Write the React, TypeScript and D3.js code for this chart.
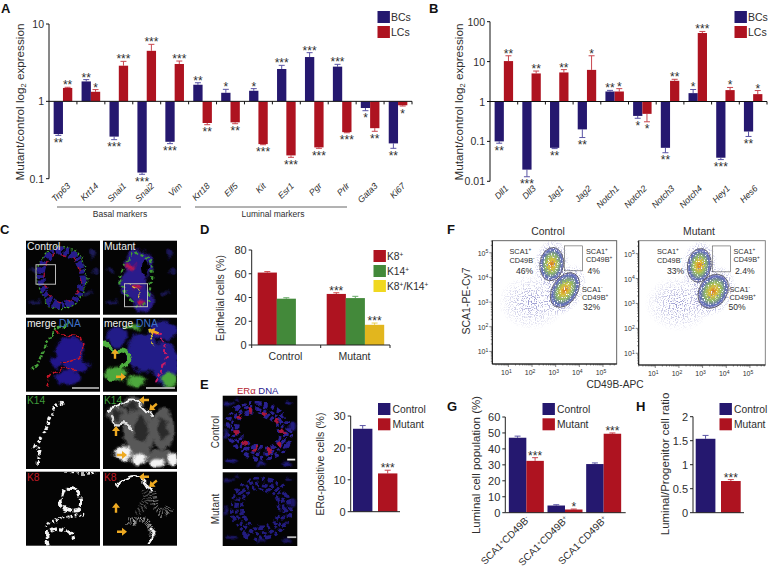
import React from "react";
import * as d3 from "d3";

const NAVY = "#25186f";
const RED = "#ae1320";
const GREEN = "#43893a";
const YELLOW = "#e2b61e";
const INK = "#2e2e2e";
const FONT = "'Liberation Sans', Arial, sans-serif";

// Panel A
const genesA = ["Trp63", "Krt14", "Snai1", "Snai2", "Vim", "Krt18", "Elf5", "Kit", "Esr1", "Pgr", "Prlr", "Gata3", "Ki67"];
const bcA = [0.378, 1.81, 0.35, 0.12, 0.3, 1.64, 1.29, 1.37, 2.62, 3.74, 2.81, 0.82, 0.286];
const lcA = [1.49, 1.33, 2.89, 4.5, 3.04, 0.525, 0.535, 0.28, 0.2, 0.254, 0.4, 0.45, 0.89];
const bcErrA = [0.363, 1.91, 0.32, 0.114, 0.284, 1.74, 1.43, 1.46, 2.92, 4.26, 3.01, 0.757, 0.247];
const lcErrA = [1.52, 1.42, 3.29, 5.46, 3.32, 0.499, 0.514, 0.275, 0.189, 0.247, 0.393, 0.41, 0.87];
const bcStarsA = ["**", "**", "***", "***", "***", "**", "*", "*", "***", "***", "***", "*", "**"];
const lcStarsA = ["**", "*", "***", "***", "***", "**", "**", "***", "***", "***", "***", "**", "*"];

// Panel B
const genesB = ["Dll1", "Dll3", "Jag1", "Jag2", "Notch1", "Notch2", "Notch3", "Notch4", "Hey1", "Hes6"];
const bcB = [0.1, 0.0196, 0.069, 0.2, 1.78, 0.435, 0.069, 1.62, 0.039, 0.177];
const lcB = [10.3, 5.05, 5.35, 6.2, 1.78, 0.49, 3.3, 52, 1.93, 1.53];
const bcErrB = [0.09, 0.013, 0.066, 0.125, 1.9, 0.38, 0.052, 2.0, 0.035, 0.133];
const lcErrB = [14, 5.8, 6.3, 14, 2.1, 0.31, 3.6, 57, 2.25, 1.88];
const bcStarsB = ["**", "***", "**", "**", "**", "*", "**", "*", "***", "**"];
const lcStarsB = ["**", "**", "**", "*", "*", "*", "**", "***", "*", "*"];

// Panel D
const valuesD = [61, 39, 43, 39.5, 17];
const errD = [61.8, 39.8, 44, 41, 18.5];
const starsD = ["", "", "***", "", "***"];

// Panel E
const valuesE = [26, 12];
const errE = [27, 13];
const starsE = ["", "***"];

// Panel G
const labelsG = [["SCA1", "+", "CD49B", "-"], ["SCA1", "+", "CD49B", "+"], ["SCA1", "-", "CD49B", "+"]];
const controlG = [47, 4.5, 30.5];
const mutantG = [32.5, 2, 49.5];
const controlErrG = [48, 5, 31.2];
const mutantErrG = [34.5, 2.3, 50];
const mutantStarsG = ["***", "*", "***"];

// Panel H
const valuesH = [1.54, 0.66];
const errH = [1.61, 0.69];
const starsH = ["", "***"];

function Stars({ x, y, text }: { x: number; y: number; text: string }) {
  if (!text) return null;
  return (
    <text x={x} y={y} textAnchor="middle" fontSize={12} fill={INK}>
      {text}
    </text>
  );
}

function Legend({ x, y, items, gap = 15, size = 12, fontSize = 10.3, textGap = 2.5 }: { x: number; y: number; items: [string, React.ReactNode][]; gap?: number; size?: number; fontSize?: number; textGap?: number }) {
  return (
    <g>
      {items.map(([color, label], i) => (
        <g key={i}>
          <rect x={x} y={y + i * gap} width={size + 0.4} height={size} fill={color} />
          <text x={x + size + textGap} y={y + i * gap + size - 2} fontSize={fontSize} fill={INK}>
            {label}
          </text>
        </g>
      ))}
    </g>
  );
}

function LogPairs({ genes, bc, lc, bcErr, lcErr, bcStars, lcStars, x0, x1, yDomain, yRange, ticks, labelDx, labelY }: any) {
  const x = d3.scaleBand<string>().domain(genes).range([x0, x1]);
  const y = d3.scaleLog().domain(yDomain).range(yRange);
  const base = y(1);
  const bw = x.bandwidth() / 3;
  const series = [
    { v: bc, e: bcErr, s: bcStars, c: NAVY, ec: "#5b55a5", off: -bw },
    { v: lc, e: lcErr, s: lcStars, c: RED, ec: "#c8474f", off: 0 },
  ];
  return (
    <g>
      {series.map((sr, si) =>
        genes.map((g: string, i: number) => {
          const left = x(g)! + x.bandwidth() / 2 + sr.off;
          const yv = y(sr.v[i]);
          const ye = y(sr.e[i]);
          const mid = left + bw / 2;
          const up = sr.v[i] >= 1;
          return (
            <g key={`${si}-${g}`}>
              <line x1={mid} x2={mid} y1={yv} y2={ye} stroke={sr.ec} />
              <line x1={mid - 3} x2={mid + 3} y1={ye} y2={ye} stroke={sr.ec} />
              <rect x={left} width={bw} y={Math.min(yv, base)} height={Math.abs(yv - base)} fill={sr.c} />
              <Stars x={mid} y={up ? ye + 2 : ye + 11.5} text={sr.s[i]} />
            </g>
          );
        })
      )}
      <line x1={x0} x2={x0} y1={yRange[0]} y2={yRange[1]} stroke="#111" />
      <line x1={x0} x2={x1} y1={base} y2={base} stroke="#111" />
      {genes.map((g: string) => (
        <line key={g} x1={x(g)! + x.bandwidth()} x2={x(g)! + x.bandwidth()} y1={base} y2={base + 3} stroke="#111" />
      ))}
      {ticks.map((t: number) => (
        <g key={t}>
          <line x1={x0 - 3} x2={x0} y1={y(t)} y2={y(t)} stroke="#111" />
          <text x={x0 - 5} y={y(t) + 4} textAnchor="end" fontSize={10.5} fill={INK}>
            {t}
          </text>
        </g>
      ))}
      {genes.map((g: string) => {
        const cx = x(g)! + x.bandwidth() / 2 + labelDx;
        return (
          <text key={g} transform={`translate(${cx},${labelY}) rotate(-45)`} textAnchor="end" fontSize={8.8} fontStyle="italic" fill={INK}>
            {g}
          </text>
        );
      })}
    </g>
  );
}

function LinAxis({ x0, x1, yBottom, yTop, domainMax, ticks, fmt, fontSize = 11 }: any) {
  const y = d3.scaleLinear().domain([0, domainMax]).range([yBottom, yTop]);
  return (
    <g>
      <line x1={x0} x2={x0} y1={yBottom} y2={yTop} stroke="#222" />
      <line x1={x0} x2={x1} y1={yBottom} y2={yBottom} stroke="#222" />
      {ticks.map((t: number) => (
        <g key={t}>
          <line x1={x0 - 3} x2={x0} y1={y(t)} y2={y(t)} stroke="#222" />
          <text x={x0 - 5} y={y(t) + 4} textAnchor="end" fontSize={fontSize} fill={INK}>
            {fmt ? fmt(t) : t}
          </text>
        </g>
      ))}
    </g>
  );
}

function SimpleBars({ xs, bw, values, err, stars, colors, yBottom, yTop, domainMax, errColors }: any) {
  const y = d3.scaleLinear().domain([0, domainMax]).range([yBottom, yTop]);
  return (
    <g>
      {values.map((v: number, i: number) => {
        const mid = xs[i] + bw / 2;
        return (
          <g key={i}>
            <line x1={mid} x2={mid} y1={y(v)} y2={y(err[i])} stroke={errColors[i]} />
            <line x1={mid - 3} x2={mid + 3} y1={y(err[i])} y2={y(err[i])} stroke={errColors[i]} />
            <rect x={xs[i]} width={bw} y={y(v)} height={yBottom - y(v)} fill={colors[i]} />
            <Stars x={mid} y={y(err[i]) + 2} text={stars[i]} />
          </g>
        );
      })}
    </g>
  );
}

const curve = d3.line().curve(d3.curveBasis);

function Sup({ base, sup, x, y, size }: any) {
  return (
    <text x={x} y={y} fontSize={size} fill={INK}>
      {base}
      <tspan dy={-size * 0.35} fontSize={size * 0.65}>
        {sup}
      </tspan>
    </text>
  );
}

function Micro({ id, x, y, w = 74, h = 74, children, over }: any) {
  return (
    <g transform={`translate(${x},${y})`}>
      <clipPath id={id}>
        <rect width={w} height={h} />
      </clipPath>
      <rect width={w} height={h} fill="#040404" />
      <g clipPath={`url(#${id})`}>
        <g filter="url(#organic)">{children}</g>
        {over}
      </g>
    </g>
  );
}

function Line({ pts, c, w = 2, dash }: any) {
  return <path d={curve(pts) ?? ""} fill="none" stroke={c} strokeWidth={w} strokeDasharray={dash} strokeLinecap={dash ? "butt" : "round"} />;
}

function Blobs({ list, c, op = 1 }: any) {
  return (
    <g filter="url(#soft2)" opacity={op}>
      {list.map((b: number[], i: number) => (
        <ellipse key={i} cx={b[0]} cy={b[1]} rx={b[2]} ry={b[3]} fill={c} />
      ))}
    </g>
  );
}

function Arrows({ list }: { list: number[][] }) {
  return (
    <g>
      {list.map((a, i) => (
        <path key={i} transform={`translate(${a[0]},${a[1]}) rotate(${a[2]})`} d="M0,-5L4,0L1.2,0L1.2,5L-1.2,5L-1.2,0L-4,0Z" fill="#eeaa22" />
      ))}
    </g>
  );
}

const bgBlue = [[8, 30, 4, 2], [66, 12, 3, 5], [62, 52, 4, 2], [10, 62, 5, 2], [70, 30, 3, 2]];

function PanelC() {
  const white = "#f4f4f4";
  const lbl = (t: string, c: string, x = 1) => (
    <text x={x} y={9} fontSize={10.3} fill={c}>
      {t}
    </text>
  );
  const merge = (
    <text x={1} y={9} fontSize={10.3} fill="#eee">
      merge <tspan fill="#3f70c8">DNA</tspan>
    </text>
  );
  return (
    <g>
      <Micro
        id="c1"
        x={26}
        y={240.7}
        over={
          <g>
            {lbl("Control", "#eee")}
            <rect x={10} y={24} width={19.5} height={19.5} fill="none" stroke="#bbb" />
          </g>
        }
      >
        <Blobs list={bgBlue} c="#1c1a58" />
        <ellipse cx={36} cy={37} rx={21} ry={27} fill="none" stroke="#251c8c" strokeWidth={7} strokeDasharray="6 1.5 4 2" />
        <ellipse cx={36} cy={37} rx={25} ry={31} fill="none" stroke="#43a035" strokeWidth={1.2} strokeDasharray="2 2" />
        <ellipse cx={36} cy={37} rx={18} ry={24} fill="none" stroke="#a81230" strokeWidth={1.4} strokeDasharray="5 6" />
      </Micro>
      <Micro
        id="c2"
        x={103}
        y={240.7}
        over={
          <g>
            {lbl("Mutant", "#eee")}
            <rect x={21.5} y={43} width={23} height={23} fill="none" stroke="#bbb" />
          </g>
        }
      >
        <Blobs list={bgBlue} c="#1a1858" />
        <Blobs list={[[36, 24, 14, 15], [30, 44, 13, 14], [40, 60, 11, 12]]} c="#2b1f8c" />
        <Line pts={[[25, 20], [36, 8], [50, 20], [48, 38], [46, 62], [36, 70], [22, 52], [14, 38], [25, 20]]} c="#3f9a34" w={2.2} dash="3 2.5" />
        <Blobs list={[[27, 26, 4, 3], [34, 46, 5, 3], [38, 62, 4, 3]]} c="#b81450" />
        <ellipse cx={43} cy={27} rx={3} ry={9} fill="#020202" />
        <Line pts={[[26, 42], [34, 50], [38, 58]]} c="#d8c430" w={1.2} dash="3 2" />
      </Micro>
      <Micro
        id="c3"
        x={26}
        y={317.7}
        over={
          <g>
            {merge}
            <rect x={46} y={69.5} width={27} height={1.6} fill="#bbb" />
          </g>
        }
      >
        <Blobs list={[[44, 32, 15, 13], [50, 48, 14, 6], [42, 60, 13, 7], [30, 44, 6, 6]]} c="#22188c" />
        <Line pts={[[30, 14], [42, 18], [54, 17], [60, 28], [52, 44], [34, 44]]} c="#c91428" w={1.6} dash="5 1.5" />
        <Line pts={[[22, 68], [24, 56], [36, 50], [50, 52]]} c="#c91428" w={1.6} dash="5 1.5" />
        <Line pts={[[44, 4], [30, 12], [20, 26], [14, 44], [6, 52]]} c="#46a43a" w={2.4} dash="3 2" />
      </Micro>
      <Micro
        id="c4"
        x={103}
        y={317.7}
        over={
          <g>
            {merge}
            <Arrows list={[[51, 14, -70], [12, 36, 0], [18, 59, 90]]} />
            <rect x={43} y={69.5} width={29} height={1.6} fill="#ccc" />
          </g>
        }
      >
        <Blobs list={[[14, 20, 10, 10], [40, 35, 16, 20], [62, 46, 13, 22], [60, 12, 14, 10]]} c="#221a88" />
        <Line pts={[[2, 26], [10, 36], [22, 30], [30, 44], [14, 50], [8, 62]]} c="#4fb040" w={4} />
        <Blobs list={[[14, 56, 11, 7], [34, 63, 9, 6], [66, 62, 8, 7], [30, 10, 9, 2.5]]} c="#4ea83c" />
        <Line pts={[[50, 14], [60, 18], [66, 40], [52, 66]]} c="#c41a66" w={2} dash="4 2" />
        <Line pts={[[46, 10], [50, 30]]} c="#dcca28" w={1.6} dash="5 2" />
      </Micro>
      <Micro id="c5" x={26} y={395} over={lbl("K14", "#3f9a3a")}>
        <Line pts={[[37, 7], [28, 14], [24, 24], [20, 36], [14, 44], [6, 54], [14, 52], [12, 62], [11, 72]]} c={white} w={3.2} dash="3.5 1.8 2.5 2.4" />
      </Micro>
      <Micro
        id="c6"
        x={103}
        y={395}
        over={
          <g>
            {lbl("K14", "#3f9a3a")}
            <Arrows list={[[41, 5, -90], [50, 12, -130], [13, 36, 0], [19, 60, 90]]} />
          </g>
        }
      >
        <Blobs list={[[14, 20, 10, 9], [30, 8, 11, 7], [36, 36, 16, 26], [60, 34, 11, 20], [56, 62, 14, 8]]} c="#585858" />
        <Blobs list={[[14, 20, 5, 5], [30, 12, 6, 5], [38, 34, 7, 13], [60, 34, 5, 10]]} c="#2c2c2c" />
        <Line pts={[[6, 16], [14, 12], [26, 2], [38, 8], [50, 22]]} c={white} w={2} />
        <Line pts={[[8, 22], [14, 32], [22, 26], [28, 34]]} c="#ddd" w={2.4} />
        <Blobs list={[[20, 58, 9, 7], [36, 64, 8, 6], [54, 68, 7, 4], [70, 64, 5, 6]]} c={white} />
      </Micro>
      <Micro id="c7" x={26} y={471.7} over={lbl("K8", "#c01a24")}>
        <Line pts={[[40, 0], [60, 2], [70, 0]]} c={white} w={1.4} dash="3 2" />
        <Line pts={[[38, 18], [33, 30], [38, 38], [54, 40], [56, 30], [52, 16], [40, 16]]} c={white} w={4} dash="8 1.5" />
        <Line pts={[[20, 56], [24, 50], [34, 46], [52, 44], [60, 42]]} c={white} w={3} dash="2 2" />
        <Line pts={[[22, 74], [20, 64], [28, 56], [44, 58], [48, 68]]} c={white} w={3.4} dash="6 2" />
      </Micro>
      <Micro
        id="c8"
        x={103}
        y={471.7}
        over={
          <g>
            {lbl("K8", "#c01a24")}
            <Arrows list={[[41, 5, -90], [50, 12, -130], [13, 36, 0], [19, 60, 90]]} />
          </g>
        }
      >
        <Line pts={[[14, 14], [24, 4], [40, 4], [48, 20]]} c={white} w={2} />
        <Line pts={[[50, 20], [52, 36], [60, 44], [68, 36]]} c="#777" w={8} dash="1 2" />
        <Line pts={[[24, 50], [36, 48], [46, 50], [50, 66]]} c="#999" w={7} dash="1 1.6" />
        <Line pts={[[48, 56], [52, 66], [46, 72]]} c={white} w={2.6} />
        <Line pts={[[40, 18], [48, 30], [34, 40]]} c="#555" w={7} dash="1 2" />
      </Micro>
    </g>
  );
}

// Cell layers of the duct section in panel E: [rx, ry, stroke, dash]
const ductRings: [number, number, string, string][] = [
  [32, 27, "#2a2092", "4 3 3 4 5 3"],
  [27, 22, "#2c2298", "5 2 3 3"],
  [22, 17, "#2a2092", "3 3 5 2 4 4"],
];

function PanelEImages() {
  const nuclei = [[6, 8, 4, 2], [66, 6, 4, 2], [70, 30, 3, 4], [8, 66, 5, 2], [64, 68, 5, 2], [38, 68, 5, 2], [14, 4, 3, 1.5], [3, 40, 2, 4]];
  return (
    <g>
      <Micro id="e1" x={222.7} y={395.7} w={74.6} h={73.3} over={<rect x={64.5} y={63} width={8} height={1.8} fill="#eee" />}>
        <Blobs list={nuclei} c="#221a84" />
        {ductRings.map(([rx, ry, c, dash], i) => (
          <ellipse key={i} cx={36} cy={35} rx={rx} ry={ry} fill="none" stroke={c} strokeWidth={3.6} strokeDasharray={dash} transform="rotate(25 36 35)" />
        ))}
        <ellipse cx={37} cy={35} rx={24} ry={19} fill="none" stroke="#a8183a" strokeWidth={4.5} strokeDasharray="4 9 5 12 3 8" transform="rotate(25 36 35)" />
      </Micro>
      <Micro id="e2" x={222.7} y={472.3} w={74.6} h={73.7} over={<rect x={64.5} y={64} width={9} height={1.8} fill="#bbb" />}>
        <Blobs list={nuclei} c="#1c1668" />
        {ductRings.map(([rx, ry, , dash], i) => (
          <ellipse key={i} cx={38} cy={36} rx={rx - 3} ry={ry + 3} fill="none" stroke="#231b80" strokeWidth={3.6} strokeDasharray={dash} />
        ))}
      </Micro>
    </g>
  );
}

// FACS gates in log10 units: [cx, cy, rx, ry, rotation]
const ctlGates = [[2.83, 4.54, 0.5, 0.68, 8], [3.39, 3.49, 0.53, 0.77, 32]];
const mutGates = [[2.86, 4.53, 0.5, 0.68, 8], [3.45, 3.49, 0.59, 0.73, 32]];
const ctlBox = [3.37, 4.27, 4.14, 5.28];
const mutBox = [3.41, 4.27, 4.18, 5.31];
const decades = [1, 2, 3, 4, 5];

function Facs({ id, x0, x1, y0, y1, xd, yd, gates, box, border }: any) {
  const xs = d3.scaleLog().domain(xd.map((d: number) => 10 ** d)).range([x0, x1]);
  const ys = d3.scaleLog().domain(yd.map((d: number) => 10 ** d)).range([y1, y0]);
  const px = (d: number) => xs(10 ** d);
  const py = (d: number) => ys(10 ** d);
  const minor = xs.ticks().filter((t) => t >= 10 ** xd[0] && t <= 10 ** xd[1]);
  const minorY = ys.ticks().filter((t) => t >= 10 ** yd[0] && t <= 10 ** yd[1]);
  const ellipse = (g: number[], scale: number, fill: string, key: string) => {
    const rx = (px(g[0] + g[2]) - px(g[0])) * scale;
    const ry = (py(g[1] - g[3]) - py(g[1])) * scale;
    return <ellipse key={key} cx={px(g[0])} cy={py(g[1])} rx={rx} ry={ry} fill={fill} transform={`rotate(${g[4]} ${px(g[0])} ${py(g[1])})`} />;
  };
  return (
    <g>
      <clipPath id={id}>
        <rect x={x0} y={y0} width={x1 - x0} height={y1 - y0} />
      </clipPath>
      <g clipPath={`url(#${id})`}>
        <g filter="url(#speck)">
          <ellipse cx={px(2.0)} cy={py(3.0)} rx={34} ry={28} fill="url(#haze)" />
          {gates.map((g: number[], i: number) => ellipse(g, 1.5, "url(#haze2)", `h${i}`))}
        </g>
        <g filter="url(#speck2)">{gates.map((g: number[], i: number) => ellipse(g, 1, "url(#dens)", `d${i}`))}</g>
      </g>
      {gates.map((g: number[], i: number) => {
        const rx = px(g[0] + g[2]) - px(g[0]);
        const ry = py(g[1] - g[3]) - py(g[1]);
        return <ellipse key={i} cx={px(g[0])} cy={py(g[1])} rx={rx} ry={ry} fill="none" stroke="#3a3a3a" strokeWidth={0.6} transform={`rotate(${g[4]} ${px(g[0])} ${py(g[1])})`} />;
      })}
      <rect x={px(box[0])} y={py(box[3])} width={px(box[2]) - px(box[0])} height={py(box[1]) - py(box[3])} fill="none" stroke="#555" strokeWidth={0.6} />
      <rect x={x0} y={y0} width={x1 - x0} height={y1 - y0} fill="none" stroke={border} strokeWidth={0.9} />
      <line x1={x0} x2={x1} y1={y1} y2={y1} stroke="#111" />
      <line x1={x0} x2={x0} y1={y0} y2={y1} stroke="#111" />
      {minor.map((t, i) => (
        <line key={i} x1={xs(t)} x2={xs(t)} y1={y1} y2={y1 + (decades.some((d) => Math.abs(10 ** d - t) < 1e-6) ? 3 : 1.5)} stroke="#333" strokeWidth={0.6} />
      ))}
      {minorY.map((t, i) => (
        <line key={i} x1={x0} x2={x0 - (decades.some((d) => Math.abs(10 ** d - t) < 1e-6) ? 3 : 1.5)} y1={ys(t)} y2={ys(t)} stroke="#333" strokeWidth={0.6} />
      ))}
      {decades.map((d) => (
        <g key={d} fontSize={7} fill={INK}>
          <text x={px(d) - 2} y={y1 + 11} textAnchor="middle">
            10<tspan dy={-2.5} fontSize={5}>{d}</tspan>
          </text>
          <text x={x0 - 4} y={py(d) + 3} textAnchor="end">
            10<tspan dy={-2.5} fontSize={5}>{d}</tspan>
          </text>
        </g>
      ))}
    </g>
  );
}

// FACS annotations: [x, y, base, sup]
const facsNotes: [number, number, string, string][] = [
  [509.5, 254, "SCA1", "+"], [509.5, 262.5, "CD49B", "-"], [586, 253.5, "SCA1", "+"], [586, 261.5, "CD49B", "+"],
  [582, 291.5, "SCA1", "-"], [582, 300, "CD49B", "+"], [657, 254, "SCA1", "+"], [657, 262.5, "CD49B", "-"],
  [733.5, 253.5, "SCA1", "+"], [733.5, 261.5, "CD49B", "+"], [729.5, 291.5, "SCA1", "-"], [729.5, 300, "CD49B", "+"],
];
const facsPercents: [number, number, string][] = [
  [516, 274, "46%"], [587.5, 274, "4%"], [583, 310, "32%"], [667, 274, "33%"], [735, 274, "2.4%"], [728.5, 310, "50%"],
];

function Label({ x, y, t }: { x: number; y: number; t: string }) {
  return (
    <text x={x} y={y} fontSize={13} fontWeight="bold" fill="#111">
      {t}
    </text>
  );
}

function YLabel({ x, y, size = 10.5, children }: any) {
  return (
    <text transform={`translate(${x},${y}) rotate(-90)`} textAnchor="middle" fontSize={size} fill={INK}>
      {children}
    </text>
  );
}

export default function App() {
  const log2Label = (
    <>
      Mutant/control log<tspan dy={2} fontSize={7.5}>2</tspan>
      <tspan dy={-2}> expression</tspan>
    </>
  );
  const xG = d3.scaleBand<number>().domain([0, 1, 2]).range([508, 624]);
  const gBw = 17.5;
  const gMax = 60;
  const gY = d3.scaleLinear().domain([0, gMax]).range([512.7, 417]);
  return (
    <svg width={769} height={570} viewBox="0 0 769 570" fontFamily={FONT} style={{ position: "absolute", left: 0, top: 0, background: "#fff" }}>
      <defs>
        <filter id="organic" x="-10%" y="-10%" width="120%" height="120%">
          <feTurbulence type="fractalNoise" baseFrequency={0.11} numOctaves={2} seed={3} result="t" />
          <feDisplacementMap in="SourceGraphic" in2="t" scale={8} xChannelSelector="R" yChannelSelector="G" />
          <feGaussianBlur stdDeviation={0.6} />
        </filter>
        <filter id="soft2" x="-20%" y="-20%" width="140%" height="140%">
          <feGaussianBlur stdDeviation={1.2} />
        </filter>
        <filter id="speck" x="0" y="0" width="100%" height="100%">
          <feTurbulence type="fractalNoise" baseFrequency={0.85} numOctaves={1} seed={4} />
          <feColorMatrix values="0 0 0 0 0 0 0 0 0 0 0 0 0 0 0 0 0 0 9 -4.6" result="n" />
          <feComposite in="SourceGraphic" in2="n" operator="in" />
        </filter>
        <filter id="speck2" x="0" y="0" width="100%" height="100%">
          <feTurbulence type="fractalNoise" baseFrequency={0.7} numOctaves={1} seed={9} />
          <feColorMatrix values="0 0 0 0 0 0 0 0 0 0 0 0 0 0 0 0 0 0 7 -2.2" result="n" />
          <feComposite in="SourceGraphic" in2="n" operator="in" />
        </filter>
        <radialGradient id="dens">
          <stop offset="0%" stopColor="#d9761f" />
          <stop offset="28%" stopColor="#d9c03a" />
          <stop offset="55%" stopColor="#8fb868" />
          <stop offset="85%" stopColor="#5f6cb8" />
          <stop offset="100%" stopColor="#5a5ab0" stopOpacity={0.5} />
        </radialGradient>
        <radialGradient id="haze">
          <stop offset="0%" stopColor="#7878c0" stopOpacity={0.8} />
          <stop offset="100%" stopColor="#8080c0" stopOpacity={0} />
        </radialGradient>
        <radialGradient id="haze2">
          <stop offset="50%" stopColor="#5a5ab0" stopOpacity={0.8} />
          <stop offset="100%" stopColor="#7070c0" stopOpacity={0} />
        </radialGradient>
      </defs>

      {/* A */}
      <Label x={1} y={13} t="A" />
      <LogPairs genes={genesA} bc={bcA} lc={lcA} bcErr={bcErrA} lcErr={lcErrA} bcStars={bcStarsA} lcStars={lcStarsA} x0={49} x1={412} yDomain={[0.1, 10]} yRange={[178.7, 24]} ticks={[0.1, 1, 10]} labelDx={8} labelY={186.5} />
      <YLabel x={24} y={102} size={11.7}>{log2Label}</YLabel>
      <Legend x={377.5} y={11} items={[[NAVY, "BCs"], [RED, "LCs"]]} gap={15} fontSize={10.5} textGap={1.5} />
      <line x1={57} x2={181} y1={207} y2={207} stroke="#666" />
      <line x1={195} x2={347} y1={207} y2={207} stroke="#666" />
      <text x={120} y={217} textAnchor="middle" fontSize={8.5} fill={INK}>Basal markers</text>
      <text x={273} y={216.5} textAnchor="middle" fontSize={8.5} fill={INK}>Luminal markers</text>

      {/* B */}
      <Label x={429} y={13} t="B" />
      <LogPairs genes={genesB} bc={bcB} lc={lcB} bcErr={bcErrB} lcErr={lcErrB} bcStars={bcStarsB} lcStars={lcStarsB} x0={490} x1={767} yDomain={[0.01, 100]} yRange={[181.3, 21.7]} ticks={[0.01, 0.1, 1, 10, 100]} labelDx={5} labelY={189} />
      <YLabel x={463} y={102} size={11.7}>{log2Label}</YLabel>
      <Legend x={734.5} y={11} items={[[NAVY, "BCs"], [RED, "LCs"]]} gap={15} fontSize={10.5} textGap={1.5} />

      {/* C */}
      <Label x={0} y={234} t="C" />
      <PanelC />

      {/* D */}
      <Label x={200} y={234} t="D" />
      <SimpleBars xs={[257.7, 276.7, 326.7, 345.7, 365]} bw={19.2} values={valuesD} err={errD} stars={starsD} colors={[RED, GREEN, RED, GREEN, YELLOW]} errColors={["#c44", "#6a6", "#c44", "#6a6", "#e8cf50"]} yBottom={345} yTop={250} domainMax={80} />
      <LinAxis x0={251.7} x1={390} yBottom={345} yTop={250} domainMax={80} ticks={[0, 20, 40, 60, 80]} />
      {[251.7, 320.7, 390].map((t) => (
        <line key={t} x1={t} x2={t} y1={345} y2={348} stroke="#222" />
      ))}
      <text x={285.5} y={360} textAnchor="middle" fontSize={10.5} fill={INK}>Control</text>
      <text x={354.5} y={360} textAnchor="middle" fontSize={10.5} fill={INK}>Mutant</text>
      <YLabel x={224} y={298} size={10.5}>Epithelial cells (%)</YLabel>
      <Legend
        x={373.5}
        y={250}
        gap={15}
        fontSize={10.3}
        textGap={1.5}
        items={[
          [RED, <>K8<tspan dy={-3} fontSize={6.5}>+</tspan></>],
          [GREEN, <>K14<tspan dy={-3} fontSize={6.5}>+</tspan></>],
          ["#f0d820", <>K8<tspan dy={-3} fontSize={6.5}>+</tspan><tspan dy={3}>/K14</tspan><tspan dy={-3} fontSize={6.5}>+</tspan></>],
        ]}
      />

      {/* E */}
      <Label x={200} y={389} t="E" />
      <text x={237} y={394} fontSize={9.5} fill="#b5242f">ERα <tspan fill="#2b2090">DNA</tspan></text>
      <PanelEImages />
      <YLabel x={219} y={432} size={10}>Control</YLabel>
      <YLabel x={219} y={509} size={10}>Mutant</YLabel>
      <SimpleBars xs={[353, 378]} bw={19.4} values={valuesE} err={errE} stars={starsE} colors={[NAVY, RED]} errColors={["#5b55a5", "#c8474f"]} yBottom={511.7} yTop={416} domainMax={30} />
      <LinAxis x0={350.7} x1={400} yBottom={511.7} yTop={416} domainMax={30} ticks={[0, 10, 20, 30]} />
      <YLabel x={324} y={464} size={10.5}>ERα-positive cells (%)</YLabel>
      <Legend x={378} y={403} gap={15.3} items={[[NAVY, "Control"], [RED, "Mutant"]]} />

      {/* F */}
      <Label x={447} y={234} t="F" />
      <text x={548} y={235} textAnchor="middle" fontSize={10.4} fill={INK}>Control</text>
      <text x={699} y={235} textAnchor="middle" fontSize={10.4} fill={INK}>Mutant</text>
      <Facs id="f1" x0={492.3} x1={616.7} y0={240.7} y1={364} xd={[0.32, 5.58]} yd={[0.49, 5.49]} gates={ctlGates} box={ctlBox} border="#555" />
      <Facs id="f2" x0={638.7} x1={765.3} y0={240.7} y1={365} xd={[0.3, 5.65]} yd={[0.53, 5.52]} gates={mutGates} box={mutBox} border="#777" />
      {facsNotes.map(([x, y, b, s], i) => (
        <Sup key={i} x={x} y={y} base={b} sup={s} size={7.3} />
      ))}
      {facsPercents.map(([x, y, t], i) => (
        <text key={i} x={x} y={y} fontSize={8.6} fill={INK}>{t}</text>
      ))}
      <YLabel x={470} y={301} size={10.5}>SCA1-PE-Cy7</YLabel>
      <text x={615} y={388} textAnchor="middle" fontSize={10.2} fill={INK}>CD49B-APC</text>

      {/* G */}
      <Label x={447} y={411} t="G" />
      {labelsG.map((l, i) => {
        const mid = xG(i)! + xG.bandwidth() / 2 - 1;
        const l0 = mid - gBw;
        const yc = gY(controlG[i]);
        const ym = gY(mutantG[i]);
        const yce = gY(controlErrG[i]);
        const yme = gY(mutantErrG[i]);
        return (
          <g key={i}>
            <line x1={l0 + gBw / 2} x2={l0 + gBw / 2} y1={yc} y2={yce} stroke="#5b55a5" />
            <line x1={l0 + gBw / 2 - 3} x2={l0 + gBw / 2 + 3} y1={yce} y2={yce} stroke="#5b55a5" />
            <line x1={mid + gBw / 2} x2={mid + gBw / 2} y1={ym} y2={yme} stroke="#c8474f" />
            <line x1={mid + gBw / 2 - 3} x2={mid + gBw / 2 + 3} y1={yme} y2={yme} stroke="#c8474f" />
            <rect x={l0} y={yc} width={gBw} height={512.7 - yc} fill={NAVY} />
            <rect x={mid} y={ym} width={gBw} height={512.7 - ym} fill={RED} />
            <Stars x={mid + gBw / 2} y={yme + 2} text={mutantStarsG[i]} />
            <text transform={`translate(${mid + 4},520) rotate(-45)`} textAnchor="end" fontSize={10} fill={INK}>
              {l[0]}
              <tspan dy={-3} fontSize={6.2}>{l[1]}</tspan>
              <tspan dy={3}>{l[2]}</tspan>
              <tspan dy={-3} fontSize={6.2}>{l[3]}</tspan>
            </text>
          </g>
        );
      })}
      <LinAxis x0={505.3} x1={625.7} yBottom={512.7} yTop={417} domainMax={gMax} ticks={[0, 10, 20, 30, 40, 50, 60]} />
      <YLabel x={480} y={465} size={11.5}>Luminal cell population (%)</YLabel>
      <Legend x={542.5} y={403} gap={15.3} items={[[NAVY, "Control"], [RED, "Mutant"]]} />

      {/* H */}
      <Label x={636} y={411} t="H" />
      <SimpleBars xs={[695.7, 721]} bw={19.7} values={valuesH} err={errH} stars={starsH} colors={[NAVY, RED]} errColors={["#5b55a5", "#c8474f"]} yBottom={512.7} yTop={416.7} domainMax={2} />
      <LinAxis x0={693} x1={744} yBottom={512.7} yTop={416.7} domainMax={2} ticks={[0, 0.5, 1, 1.5, 2]} />
      <YLabel x={669} y={464} size={11.5}>Luminal/Progenitor cell ratio</YLabel>
      <Legend x={719.5} y={403} gap={15.3} items={[[NAVY, "Control"], [RED, "Mutant"]]} />
    </svg>
  );
}
